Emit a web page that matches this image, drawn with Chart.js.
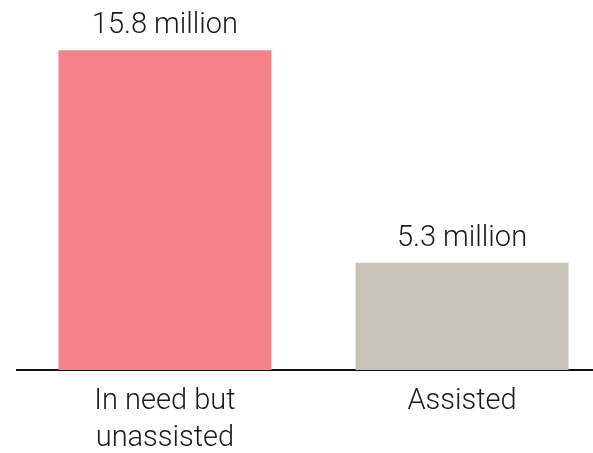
<!DOCTYPE html>
<html lang="en">
<head>
<meta charset="UTF-8">
<title>In need vs assisted</title>
<script src="https://cdn.jsdelivr.net/npm/chart.js@4/dist/chart.umd.min.js"></script>
<style>
    body {
        margin: 0;
        padding: 0;
        background: #fff;
    }
    #wrap {
        width: 593px;
        height: 453px;
    }
</style>
</head>
<body>
<div id="wrap"><canvas id="chart"></canvas></div>
<script>
const categories = [['In need but', 'unassisted'], ['Assisted']];
const values = [15.8, 5.3];
const valueLabels = ['15.8 million', '5.3 million'];
const barColors = ['#f5828a', '#c9c2b7'];

const FONT = 'Roboto, sans-serif';

// draws "xx million" above each bar
const valueLabelPlugin = {
    id: 'valueLabels',
    afterDatasetsDraw(chart) {
        const ctx = chart.ctx;
        const meta = chart.getDatasetMeta(0);
        ctx.save();
        ctx.font = '300 29px ' + FONT;
        ctx.fillStyle = '#1a1a1a';
        ctx.textAlign = 'center';
        ctx.textBaseline = 'alphabetic';
        meta.data.forEach((bar, i) => {
            ctx.fillText(valueLabels[i], bar.x, bar.y - 17);
        });
        ctx.restore();
    }
};

new Chart(document.getElementById('chart'), {
    type: 'bar',
    data: {
        datasets: [{
            data: values.map((v, i) => ({ x: i, y: v })),
            backgroundColor: barColors,
            borderWidth: 0,
            barPercentage: 0.717,
            categoryPercentage: 1
        }]
    },
    options: {
        responsive: true,
        maintainAspectRatio: false,
        animation: false,
        layout: {
            padding: { left: 17, right: 0, top: 26, bottom: 0 }
        },
        plugins: {
            legend: { display: false },
            tooltip: { enabled: false }
        },
        scales: {
            x: {
                type: 'linear',
                offset: false,
                min: -0.498,
                max: 1.441,
                afterBuildTicks: (scale) => {
                    scale.ticks = categories.map((c, i) => ({ value: i }));
                },
                afterFit: (scale) => {
                    scale.height = 83;
                },
                grid: { display: false, drawTicks: false },
                border: { color: '#111', width: 2 },
                ticks: {
                    autoSkip: false,
                    maxRotation: 0,
                    padding: 13,
                    color: '#1a1a1a',
                    font: { family: FONT, size: 29, weight: 300, lineHeight: 1.28 },
                    callback: (v) => categories[v] || ''
                }
            },
            y: {
                display: false,
                min: 0,
                max: 17
            }
        }
    },
    plugins: [valueLabelPlugin]
});
</script>
</body>
</html>
